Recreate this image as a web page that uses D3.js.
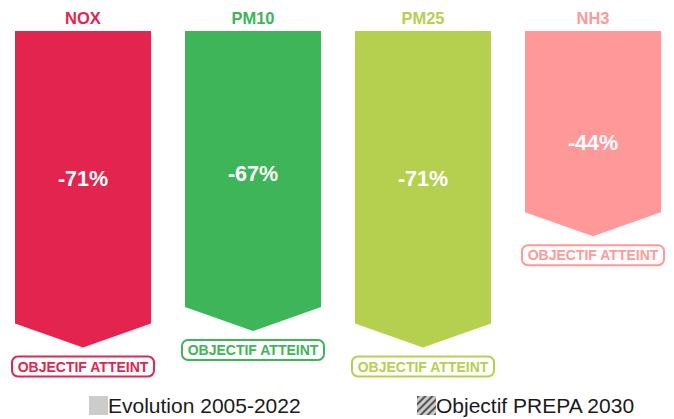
<!DOCTYPE html>
<html>
<head>
<meta charset="utf-8">
<script src="https://cdn.jsdelivr.net/npm/d3@7"></script>
<style>
  body { margin: 0; background: #fff; }
  svg { display: block; font-family: "Liberation Sans", Arial, sans-serif; }
</style>
</head>
<body>
<script>
const polluants = ["NOX", "PM10", "PM25", "NH3"];
const evolution = [-71, -67, -71, -44];
const couleurs = ["#E2244F", "#3DB558", "#B5CF4F", "#FF9999"];
const statut = ["OBJECTIF ATTEINT", "OBJECTIF ATTEINT", "OBJECTIF ATTEINT", "OBJECTIF ATTEINT"];
const legende = ["Evolution 2005-2022", "Objectif PREPA 2030"];

const width = 674, height = 419;
const barTop = 31, tip = 24;

const svg = d3.select("body").append("svg")
  .attr("width", width)
  .attr("height", height);

const defs = svg.append("defs");
const pat = defs.append("pattern")
  .attr("id", "hatch")
  .attr("patternUnits", "userSpaceOnUse")
  .attr("width", 5)
  .attr("height", 5)
  .attr("patternTransform", "rotate(45)");
pat.append("rect").attr("width", 5).attr("height", 5).attr("fill", "#cccccc");
pat.append("rect").attr("width", 2).attr("height", 5).attr("fill", "#555555");

const x = d3.scaleBand()
  .domain(polluants)
  .range([-2, 678])
  .paddingInner(0.2)
  .paddingOuter(0.1);

const y = d3.scaleLinear()
  .domain([0, 100])
  .range([barTop, barTop + 412]);

const data = polluants.map((p, i) => ({
  name: p, value: evolution[i], color: couleurs[i], statut: statut[i]
}));

const g = svg.selectAll(".bar")
  .data(data)
  .join("g")
  .attr("class", "bar");

// arrow shape
g.append("path")
  .attr("fill", d => d.color)
  .attr("d", d => {
    let x0 = x(d.name), x1 = x0 + x.bandwidth(), cx = x0 + x.bandwidth() / 2;
    let ys = y(-d.value);
    return d3.line()([[x0, y(0)], [x1, y(0)], [x1, ys], [cx, ys + tip], [x0, ys], [x0, y(0)]]);
  });

// polluant name
g.append("text")
  .attr("x", d => x(d.name) + x.bandwidth() / 2)
  .attr("y", 24)
  .attr("text-anchor", "middle")
  .attr("font-size", 16.5)
  .attr("font-weight", "bold")
  .attr("fill", d => d.color)
  .text(d => d.name);

// value
g.append("text")
  .attr("x", d => x(d.name) + x.bandwidth() / 2)
  .attr("y", d => y(0) + 51.5 + 0.327 * (y(-d.value) - y(0)))
  .attr("dy", "0.36em")
  .attr("text-anchor", "middle")
  .attr("font-size", 21.5)
  .attr("font-weight", "bold")
  .attr("fill", "#fff")
  .text(d => d.value + "%");

// status badge
const bw = 142, bh = 20;
g.append("rect")
  .attr("x", d => x(d.name) + x.bandwidth() / 2 - bw / 2)
  .attr("y", d => y(-d.value) + tip + 9)
  .attr("width", bw)
  .attr("height", bh)
  .attr("rx", 6)
  .attr("fill", "#fff")
  .attr("stroke", d => d.color)
  .attr("stroke-width", 2);

g.append("text")
  .attr("x", d => x(d.name) + x.bandwidth() / 2)
  .attr("y", d => y(-d.value) + tip + 9 + bh / 2)
  .attr("dy", "0.36em")
  .attr("text-anchor", "middle")
  .attr("font-size", 14)
  .attr("font-weight", "bold")
  .attr("fill", d => d.color)
  .text(d => d.statut);

// legend
const lx = [89, 417];
const leg = svg.selectAll(".leg")
  .data(legende)
  .join("g")
  .attr("class", "leg")
  .attr("transform", (d, i) => `translate(${lx[i]},396)`);

leg.append("rect")
  .attr("width", 19)
  .attr("height", 19)
  .attr("fill", (d, i) => i === 0 ? "#cccccc" : "url(#hatch)");

leg.append("text")
  .attr("x", 19)
  .attr("y", 17)
  .attr("font-size", 21)
  .attr("fill", "#1a1a1a")
  .text(d => d);
</script>
</body>
</html>
